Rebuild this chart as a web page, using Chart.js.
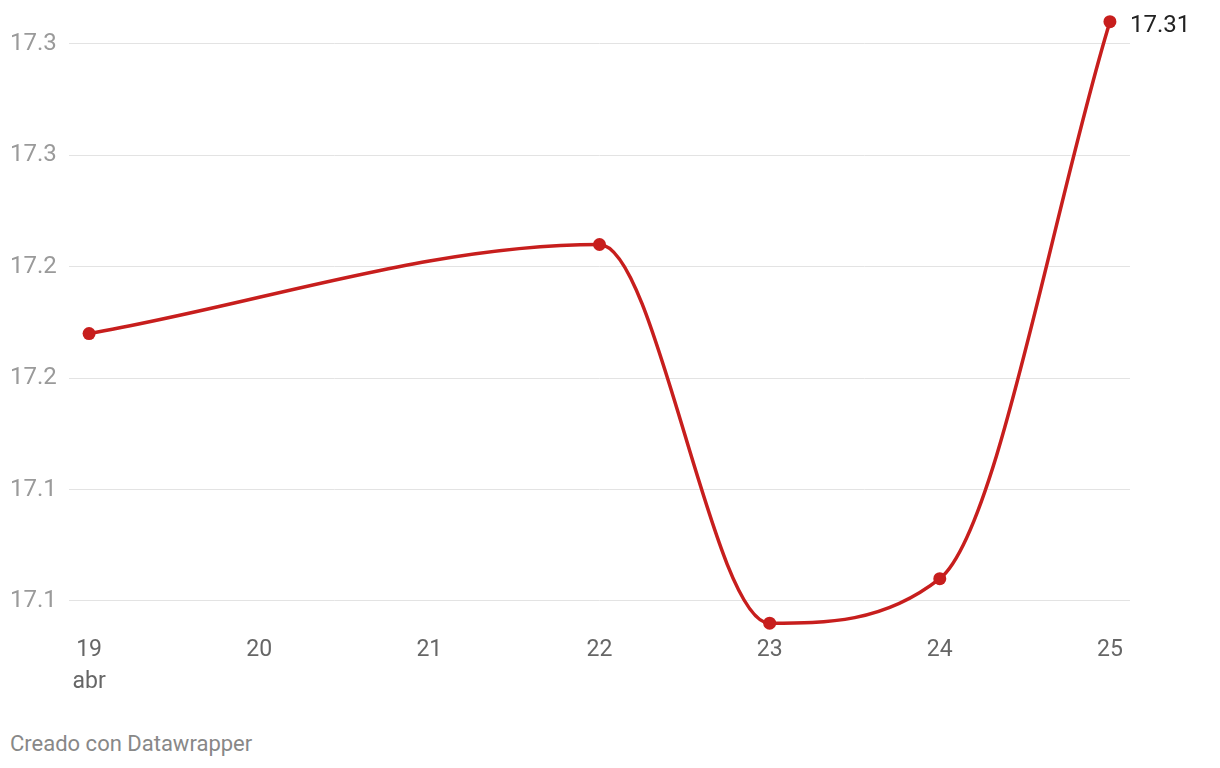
<!DOCTYPE html>
<html>
<head>
<meta charset="utf-8">
<script src="https://cdn.jsdelivr.net/npm/chart.js@4"></script>
<style>
  html, body { margin: 0; padding: 0; background: #fff; }
  #wrap { position: relative; width: 1220px; height: 768px; }
  #box { position: absolute; left: 0; top: 0; width: 1220px; height: 701px; }
  #credit {
    position: absolute; left: 10px; top: 731px;
    font-family: Roboto, sans-serif; font-size: 22px; color: #888;
  }
</style>
</head>
<body>
<div id="wrap">
  <div id="box"><canvas id="lineChart"></canvas></div>
  <div id="credit">Creado con Datawrapper</div>
</div>
<script>
// Datos (abril)
const days = [19, 22, 23, 24, 25];
const values = [17.17, 17.21, 17.04, 17.06, 17.31];

const xTicks = [19, 20, 21, 22, 23, 24, 25];
const xTickLabels = [['19', 'abr'], '20', '21', '22', '23', '24', '25'];
const yTicks = [17.05, 17.10, 17.15, 17.20, 17.25, 17.30];
const yTickLabels = ['17.1', '17.1', '17.2', '17.2', '17.3', '17.3'];

const lastLabel = '17.31';
const red = '#c71e1d';

// draws the value next to the last point
const endLabel = {
  id: 'endLabel',
  afterDatasetsDraw(chart) {
    const pt = chart.getDatasetMeta(0).data[values.length - 1];
    const ctx = chart.ctx;
    ctx.save();
    ctx.font = '24px Roboto, sans-serif';
    ctx.fillStyle = '#222';
    ctx.textAlign = 'left';
    ctx.textBaseline = 'middle';
    ctx.fillText(lastLabel, pt.x + 20, pt.y + 4);
    ctx.restore();
  }
};

const ctx = document.getElementById('lineChart').getContext('2d');

const chart = new Chart(ctx, {
  type: 'line',
  data: {
    datasets: [{
      data: days.map((d, i) => ({ x: d, y: values[i] })),
      borderColor: red,
      backgroundColor: red,
      borderWidth: 3.5,
      cubicInterpolationMode: 'monotone',
      pointRadius: 6.5,
      pointBorderWidth: 0,
      pointBackgroundColor: red,
      fill: false
    }]
  },
  options: {
    responsive: true,
    maintainAspectRatio: false,
    animation: false,
    layout: { padding: { left: 10, right: 90, top: 11, bottom: 10 } },
    plugins: {
      legend: { display: false },
      tooltip: { enabled: false }
    },
    scales: {
      x: {
        type: 'linear',
        min: 18.882,
        max: 25.118,
        afterBuildTicks: (s) => { s.ticks = xTicks.map(v => ({ value: v })); },
        afterFit: (s) => { s.height = 60; s.paddingLeft = 0; s.paddingRight = 0; },
        grid: { display: false, drawTicks: false },
        border: { display: false },
        ticks: {
          padding: 3,
          maxRotation: 0,
          autoSkip: false,
          color: '#666',
          font: { family: 'Roboto', size: 23, lineHeight: 1.4 },
          callback: (v) => xTickLabels[xTicks.indexOf(v)]
        }
      },
      y: {
        min: 17.0365,
        max: 17.3148,
        afterBuildTicks: (s) => { s.ticks = yTicks.map(v => ({ value: v })); },
        afterFit: (s) => { s.width = 59; s.paddingTop = 0; s.paddingBottom = 0; },
        grid: { color: '#e3e3e3', lineWidth: 1, drawTicks: false },
        border: { display: false },
        ticks: {
          crossAlign: 'far',
          padding: 10,
          color: '#9a9a9a',
          font: { family: 'Roboto', size: 24 },
          callback: (v) => yTickLabels[yTicks.findIndex(t => Math.abs(t - v) < 1e-6)]
        }
      }
    }
  },
  plugins: [endLabel]
});
</script>
</body>
</html>
